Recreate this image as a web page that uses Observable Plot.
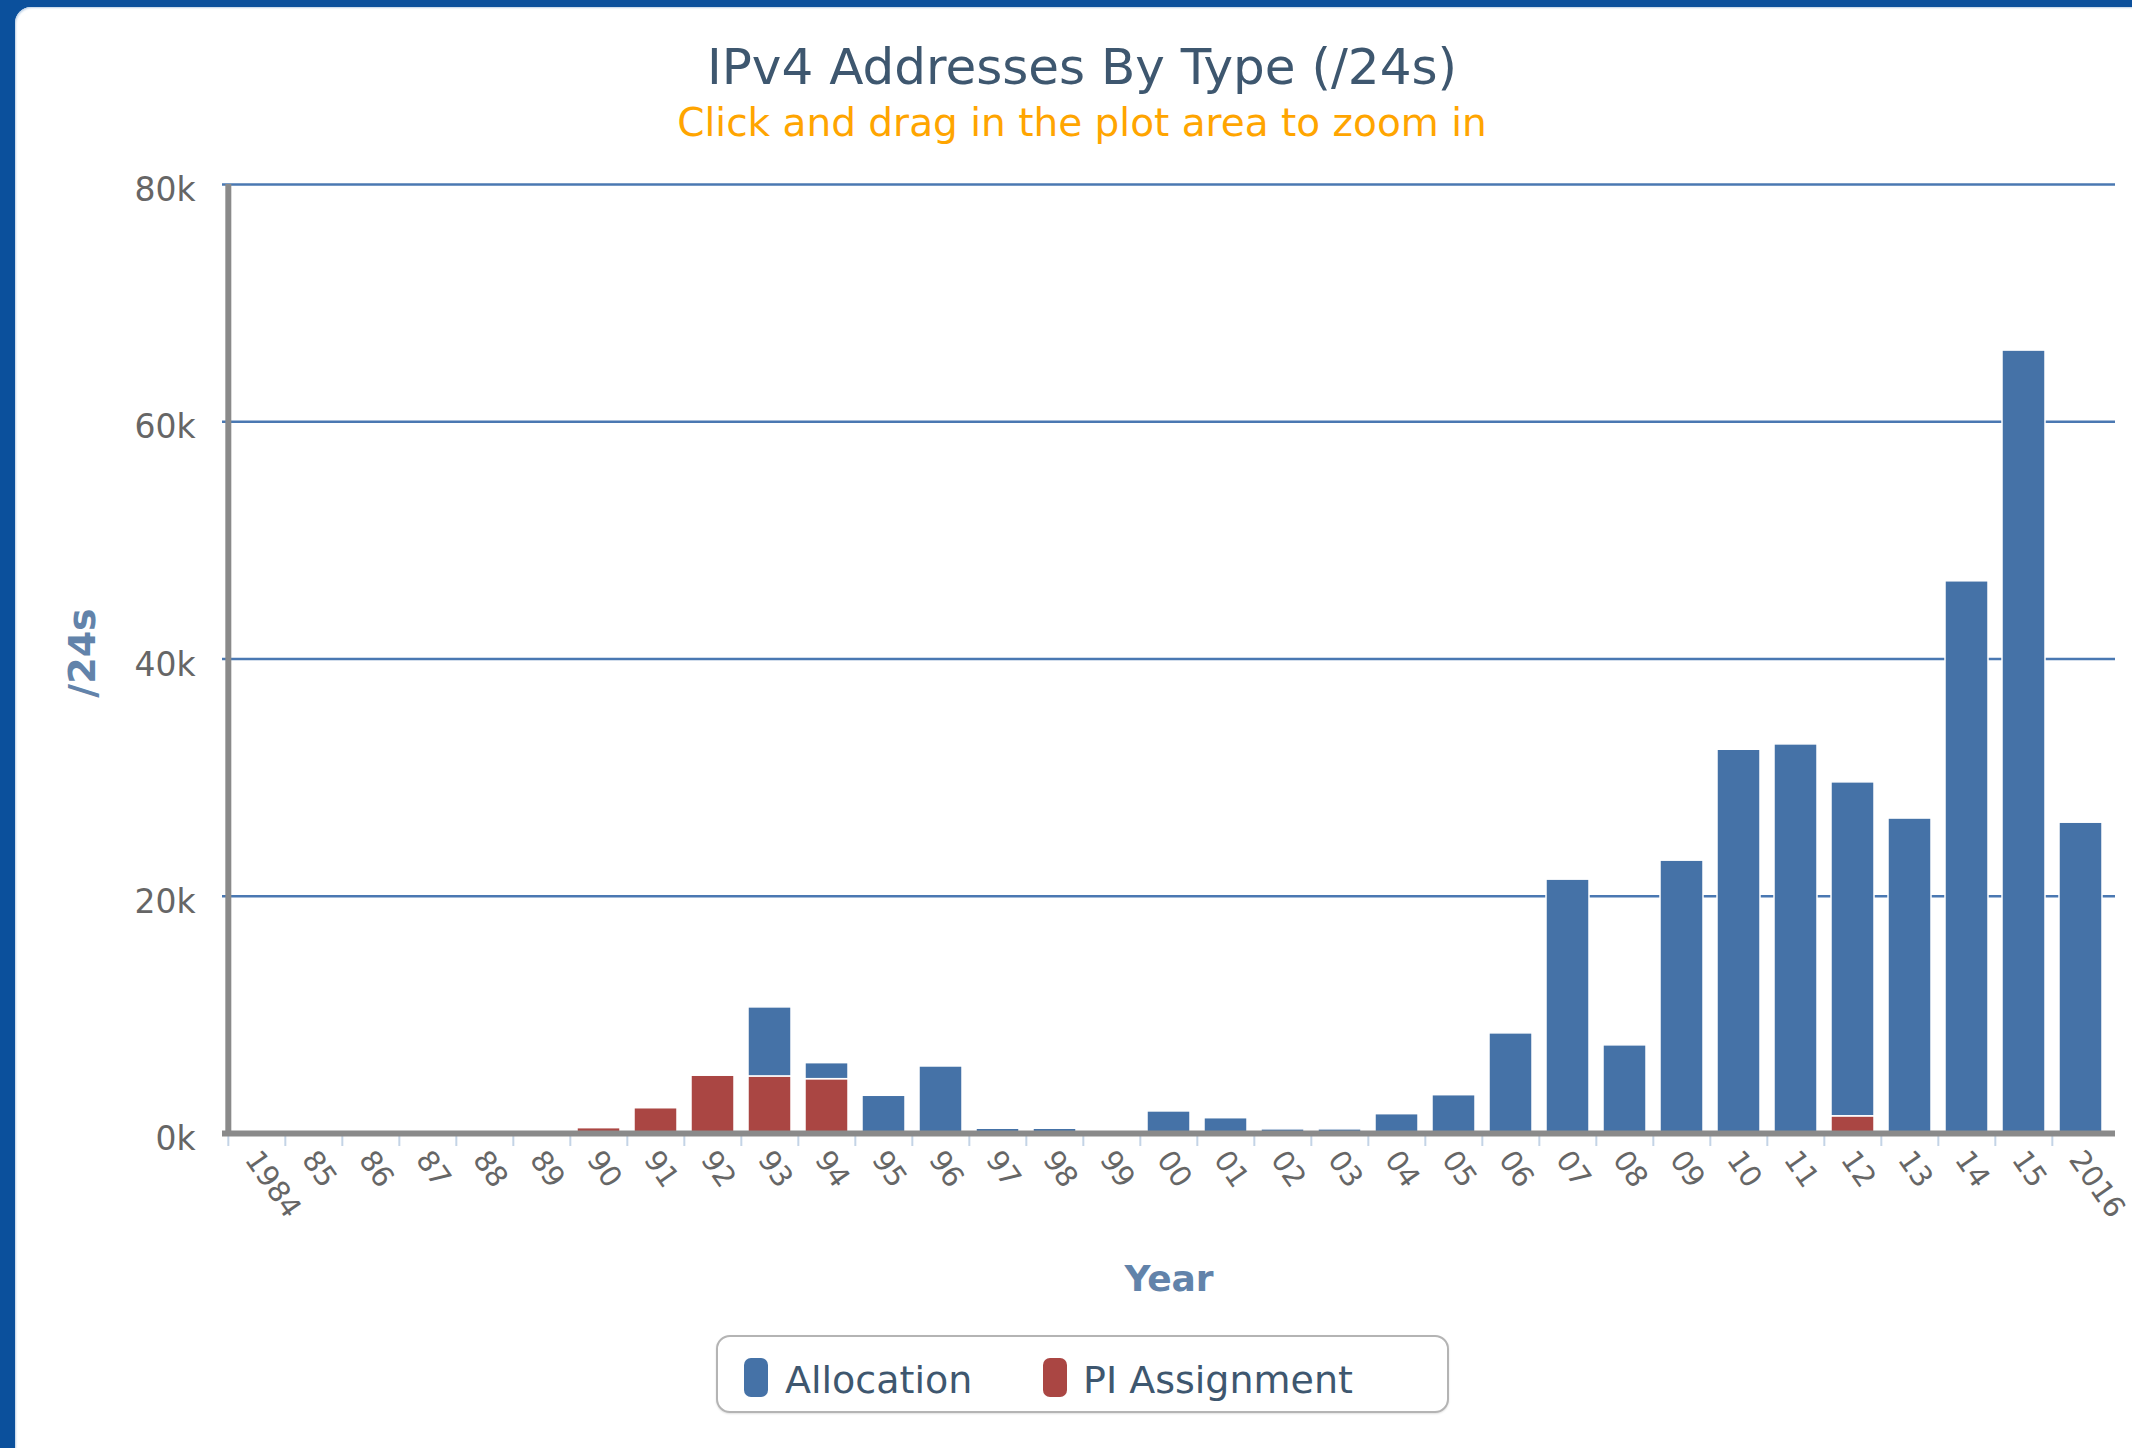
<!DOCTYPE html>
<html>
<head>
<meta charset="utf-8">
<script src="https://cdn.jsdelivr.net/npm/d3@7"></script>
<script src="https://cdn.jsdelivr.net/npm/@observablehq/plot@0.6"></script>
<style>
  html, body { margin: 0; padding: 0; width: 2132px; height: 1448px; overflow: hidden; background: #0b509c; font-family: "DejaVu Sans", Verdana, sans-serif; }
  #card { position: absolute; left: 15px; top: 7px; width: 2200px; height: 1500px; background: #fff; border-top-left-radius: 16px; box-shadow: inset 1px 1px 2px #bcd0e6; }
  #title { position: absolute; left: 0; width: 2164px; top: 43px; text-align: center; font-size: 50px; line-height: 49px; color: #3E576F; white-space: nowrap; }
  #subtitle { position: absolute; left: 0; width: 2164px; top: 104px; text-align: center; font-size: 39px; line-height: 38px; color: #FFA500; white-space: nowrap; }
  #chart { position: absolute; left: 0; top: 155px; }
  #legend { position: absolute; left: 716px; top: 1335px; width: 733px; height: 78px; box-sizing: border-box; border: 2px solid #b4b4b4; border-radius: 14px; background: #fff; box-shadow: 0 1px 2px rgba(0,0,0,0.12); }
  .sw { position: absolute; top: 21px; width: 24px; height: 39px; border-radius: 7px; }
  .lt { position: absolute; top: 24px; font-size: 38px; line-height: 38px; color: #3E576F; white-space: nowrap; }
</style>
</head>
<body>
<div id="card"></div>
<div id="title"></div>
<div id="subtitle"></div>
<div id="chart"></div>
<div id="legend"></div>
<script>
// ---- data ----
const titleText = "IPv4 Addresses By Type (/24s)";
const subtitleText = "Click and drag in the plot area to zoom in";
const years = ["1984","1985","1986","1987","1988","1989","1990","1991","1992","1993","1994",
  "1995","1996","1997","1998","1999","2000","2001","2002","2003","2004","2005","2006","2007",
  "2008","2009","2010","2011","2012","2013","2014","2015","2016"];
const tickLabels = ["1984","85","86","87","88","89","90","91","92","93","94","95","96","97","98","99",
  "00","01","02","03","04","05","06","07","08","09","10","11","12","13","14","15","2016"];
const allocation = [0,0,0,0,0,0,0,0,0,5820,1350,3180,5650,400,400,0,1860,1290,350,350,1630,3230,
  8440,21400,7430,23000,32350,32800,28150,26550,46550,66000,26200];
const piAssignment = [0,0,0,0,0,0,450,2130,4870,4810,4580,0,0,0,0,0,0,0,0,0,0,0,
  0,0,0,0,0,0,1450,0,0,0,0];
const seriesNames = ["Allocation", "PI Assignment"];
const seriesColors = ["#4572A7", "#AA4643"];
const yTicks = [0, 20000, 40000, 60000, 80000];
const yAxisTitle = "/24s";
const xAxisTitle = "Year";

// ---- layout ----
document.getElementById("title").textContent = titleText;
document.getElementById("subtitle").textContent = subtitleText;

const W = 2132, H = 1175;
const ml = 222, mr = 17, mt = 29, mb = 197;
const step = (W - ml - mr) / years.length;
const pad = 0.25;

const rows = [
  ...years.map((y, i) => ({year: y, type: "PI Assignment", value: piAssignment[i]})),
  ...years.map((y, i) => ({year: y, type: "Allocation", value: allocation[i]}))
].filter(d => d.value > 0);

const labelRows = years.map((y, i) => ({year: y, label: tickLabels[i]}));

const chart = Plot.plot({
  width: W, height: H,
  marginLeft: ml, marginRight: mr, marginTop: mt, marginBottom: mb,
  style: {fontFamily: "'DejaVu Sans', Verdana, sans-serif", background: "transparent"},
  x: {domain: years, paddingInner: pad, paddingOuter: pad / 2, axis: null},
  y: {domain: [0, 80000], axis: null},
  color: {domain: seriesNames, range: seriesColors},
  marks: [
    Plot.ruleY(yTicks.filter(d => d > 0), {y: d => d, stroke: "#4a78b2", strokeWidth: 2.5}),
    Plot.barY(rows, {x: "year", y: "value", fill: "type", stroke: "white", strokeWidth: 1.5}),
    Plot.ruleX(years, {x: d => d, dx: -step / 2, y1: 0, y2: 0, insetTop: 0, insetBottom: -13, stroke: "#c4d4e6", strokeWidth: 2}),
    Plot.ruleY([0], {y: d => d, stroke: "#8a8a8a", strokeWidth: 6}),
    Plot.ruleX([years[0]], {x: d => d, dx: -step / 2, insetBottom: -3, stroke: "#8a8a8a", strokeWidth: 6}),
    Plot.text(yTicks, {y: d => d, text: d => (d / 1000) + "k", frameAnchor: "left", dx: -27, dy: 6,
      textAnchor: "end", lineAnchor: "middle", fontSize: 33, fill: "#666666"}),
    Plot.text(labelRows, {x: "year", text: "label", frameAnchor: "bottom", rotate: 55,
      textAnchor: "start", lineAnchor: "bottom", dx: -13, dy: 26, fontSize: 29, fill: "#666666"}),
    Plot.text([xAxisTitle], {text: d => d, frameAnchor: "bottom", dy: 157, lineAnchor: "bottom",
      textAnchor: "middle", fontSize: 36, fontWeight: "bold", fill: "#6283aa"}),
    Plot.text([yAxisTitle], {text: d => d, frameAnchor: "left", dx: -140, dy: -6, rotate: -90,
      textAnchor: "middle", lineAnchor: "middle", fontSize: 38, fontWeight: "bold", fill: "#6283aa"})
  ]
});
document.getElementById("chart").appendChild(chart);

// ---- legend ----
const legend = document.getElementById("legend");
const swLeft = [26, 325], txtLeft = [67, 365];
seriesNames.forEach((name, i) => {
  const sw = document.createElement("div");
  sw.className = "sw"; sw.style.left = swLeft[i] + "px"; sw.style.background = seriesColors[i];
  legend.appendChild(sw);
  const t = document.createElement("div");
  t.className = "lt"; t.style.left = txtLeft[i] + "px"; t.textContent = name;
  legend.appendChild(t);
});
</script>
</body>
</html>
